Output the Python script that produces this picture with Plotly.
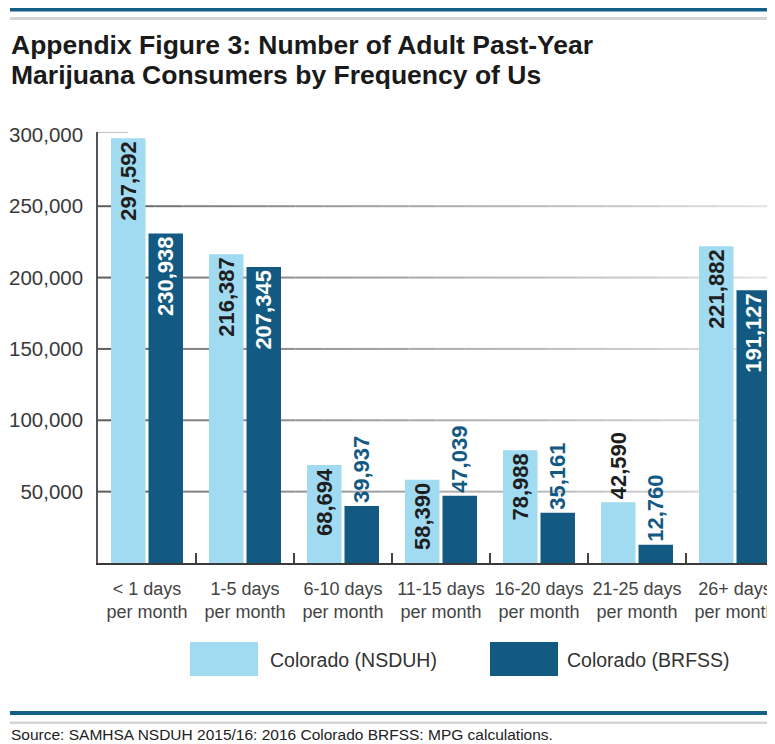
import plotly.graph_objects as go

categories = ["< 1 days<br>per month", "1-5 days<br>per month", "6-10 days<br>per month",
              "11-15 days<br>per month", "16-20 days<br>per month", "21-25 days<br>per month",
              "26+ days<br>per month"]
nsduh = [297592, 216387, 68694, 58390, 78988, 42590, 221882]
brfss = [230938, 207345, 39937, 47039, 35161, 12760, 191127]
nsduh_pos = ["inside", "inside", "inside", "inside", "inside", "outside", "inside"]
brfss_pos = ["inside", "inside", "outside", "outside", "outside", "outside", "inside"]
y_ticks = [50000, 100000, 150000, 200000, 250000, 300000]
y_ticktext = ["50,000", "100,000", "150,000", "200,000", "250,000", "300,000"]
series_names = ["Colorado (NSDUH)", "Colorado (BRFSS)"]
title_lines = ["Appendix Figure 3: Number of Adult Past-Year",
               "Marijuana Consumers by Frequency of Us"]
source_text = "Source: SAMHSA NSDUH 2015/16: 2016 Colorado BRFSS: MPG calculations."

LIGHT = "#a1dbf2"
DARK = "#135a83"
RULE_BLUE = "#145f8a"
FONT = "Liberation Sans"

OFF = 8  # browser body margin
W, H = 775 - OFF, 744 - OFF
L, T, B = 98 - OFF, 132 - OFF, 563 - OFF  # plot area pixel bounds (figure coords)
PW, PH = W - L, B - T
CAT_PX = 98.0


def px(x):  # reference page x -> paper
    return (x - OFF - L) / PW


def py(y):  # reference page y -> paper
    return (B - (y - OFF)) / PH


def grid_gray(x):
    pts = [(98, 88), (200, 130), (440, 172), (620, 200), (775, 228)]
    for (x0, g0), (x1, g1) in zip(pts[:-1], pts[1:]):
        if x <= x1:
            g = g0 + (g1 - g0) * (x - x0) / (x1 - x0)
            break
    else:
        g = pts[-1][1]
    g = int(round(g))
    return f"rgb({g},{g},{g})"


fig = go.Figure()
fig.add_trace(go.Bar(
    x=categories, y=nsduh, name=series_names[0], marker=dict(color=LIGHT, line=dict(width=0)),
    text=[f"{v:,}" for v in nsduh], textposition=nsduh_pos, textangle=-90,
    insidetextanchor="end", constraintext="none", cliponaxis=False,
    insidetextfont=dict(family=FONT, size=22, color="#1e1e1e", weight="bold"),
    outsidetextfont=dict(family=FONT, size=22, color="#1e1e1e", weight="bold"),
    showlegend=False, hoverinfo="skip",
))
fig.add_trace(go.Bar(
    x=categories, y=brfss, name=series_names[1], marker=dict(color=DARK, line=dict(width=0)),
    text=[f"{v:,}" for v in brfss], textposition=brfss_pos, textangle=-90,
    insidetextanchor="end", constraintext="none", cliponaxis=False,
    insidetextfont=dict(family=FONT, size=22, color="#ffffff", weight="bold"),
    outsidetextfont=dict(family=FONT, size=22, color=DARK, weight="bold"),
    showlegend=False, hoverinfo="skip",
))

shapes = []
# gridlines with a dark-to-light fade (below bars)
NSEG = 24
for v in y_ticks[:-1]:
    for i in range(NSEG):
        xa, xb = 98 + (775 - 98) * i / NSEG, 98 + (775 - 98) * (i + 1) / NSEG
        shapes.append(dict(type="line", xref="paper", yref="y", x0=px(xa), x1=px(xb), y0=v, y1=v,
                           line=dict(color=grid_gray((xa + xb) / 2), width=2), layer="below"))
# short stub at the top of the axis
shapes.append(dict(type="line", xref="paper", yref="paper", x0=0, x1=px(128), y0=py(132.5), y1=py(132.5),
                   line=dict(color="#c8c8c8", width=1.2), layer="below"))
# top rules
shapes.append(dict(type="rect", xref="paper", yref="paper", x0=px(10), x1=px(790),
                   y0=py(11.5), y1=py(7), fillcolor=RULE_BLUE, line=dict(width=0)))
shapes.append(dict(type="rect", xref="paper", yref="paper", x0=px(10), x1=px(790),
                   y0=py(20), y1=py(17), fillcolor="#d4d4d4", line=dict(width=0)))
# bottom rules
shapes.append(dict(type="rect", xref="paper", yref="paper", x0=px(10), x1=px(790),
                   y0=py(715), y1=py(711), fillcolor=RULE_BLUE, line=dict(width=0)))
shapes.append(dict(type="rect", xref="paper", yref="paper", x0=px(10), x1=px(790),
                   y0=py(724), y1=py(721.5), fillcolor="#d4d4d4", line=dict(width=0)))
# legend swatches
shapes.append(dict(type="rect", xref="paper", yref="paper", x0=px(190), x1=px(258),
                   y0=py(676), y1=py(642), fillcolor=LIGHT, line=dict(width=0)))
shapes.append(dict(type="rect", xref="paper", yref="paper", x0=px(490), x1=px(558),
                   y0=py(676), y1=py(642), fillcolor=DARK, line=dict(width=0)))

annotations = [
    dict(text=title_lines[0], xref="paper", yref="paper", x=px(9), y=py(45),
         xanchor="left", yanchor="middle", showarrow=False,
         font=dict(family=FONT, size=26.5, color="#1a1a1a", weight="bold")),
    dict(text=title_lines[1], xref="paper", yref="paper", x=px(9), y=py(75),
         xanchor="left", yanchor="middle", showarrow=False,
         font=dict(family=FONT, size=26.5, color="#1a1a1a", weight="bold")),
    dict(text=series_names[0], xref="paper", yref="paper", x=px(268), y=py(660),
         xanchor="left", yanchor="middle", showarrow=False,
         font=dict(family=FONT, size=19.5, color="#333333")),
    dict(text=series_names[1], xref="paper", yref="paper", x=px(565), y=py(660),
         xanchor="left", yanchor="middle", showarrow=False,
         font=dict(family=FONT, size=19.5, color="#333333")),
    dict(text=source_text, xref="paper", yref="paper", x=px(9), y=py(734), xanchor="left",
         yanchor="middle", showarrow=False, font=dict(family=FONT, size=15.5, color="#222222")),
]

fig.update_layout(
    width=W, height=H,
    margin=dict(l=L, r=0, t=T, b=H - B, pad=0, autoexpand=False),
    paper_bgcolor="white", plot_bgcolor="white",
    barmode="group", bargap=0.235, bargroupgap=0.08,
    uniformtext=dict(minsize=22, mode="show"),
    xaxis=dict(range=[-0.5, -0.5 + PW / CAT_PX], showline=True, linecolor="#3a3a3a", linewidth=2,
               ticks="inside", tickson="boundaries", ticklen=10, tickwidth=1.5, tickcolor="#444444",
               tickfont=dict(family=FONT, size=18, color="#444444"), showgrid=False,
               tickangle=0, automargin=False, ticklabelstandoff=8, fixedrange=True),
    yaxis=dict(range=[0, 302000], tickvals=y_ticks, ticktext=y_ticktext, showline=True,
               linecolor="#555555", linewidth=1.5, ticks="", showgrid=False, zeroline=False,
               automargin=False,
               tickfont=dict(family=FONT, size=20.5, color="#3a3a3a"), ticklabelstandoff=9),
    shapes=shapes, annotations=annotations,
)

fig.write_html("out.html")
